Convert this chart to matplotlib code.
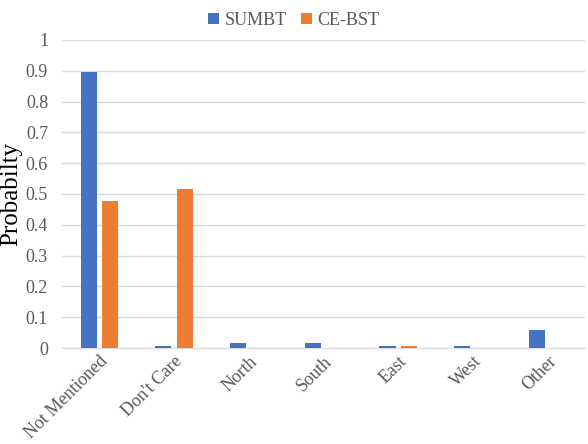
import numpy as np
import matplotlib
matplotlib.use("Agg")
import matplotlib.pyplot as plt
from matplotlib.ticker import FuncFormatter

categories = ["Not Mentioned", "Don't Care", "North", "South", "East", "West", "Other"]
sumbt = [0.895, 0.007, 0.015, 0.015, 0.007, 0.007, 0.058]
ce_bst = [0.476, 0.516, 0.0, 0.0, 0.007, 0.0, 0.0]

plt.rcParams["font.family"] = ["Liberation Serif", "DejaVu Serif"]

fig = plt.figure(figsize=(5.88, 4.44), dpi=100)
ax = fig.add_axes([62 / 588, 1 - 348 / 444, 523 / 588, 308 / 444])

x = np.arange(len(categories))
w = 0.215
ax.bar(x - 0.143, sumbt, w, color="#4472C4", label="SUMBT", zorder=3)
ax.bar(x + 0.143, ce_bst, w, color="#ED7D31", label="CE-BST", zorder=3)

ax.set_xlim(-0.5, len(categories) - 0.5)
ax.set_ylim(0, 1)
ax.set_yticks(np.arange(0, 1.01, 0.1))
ax.yaxis.set_major_formatter(FuncFormatter(lambda v, p: "%g" % round(v, 1)))
ax.grid(axis="y", color="#D9D9D9", linewidth=1, zorder=0)
for s in ["top", "right", "left"]:
    ax.spines[s].set_visible(False)
ax.spines["bottom"].set_color("#D9D9D9")
ax.tick_params(axis="both", length=0, labelsize=13, colors="#595959")
ax.tick_params(axis="y", pad=10)
ax.set_xticks(x)
ax.set_xticklabels(categories, rotation=45, ha="right", rotation_mode="anchor")
ax.set_ylabel("Probabilty", fontsize=18, color="#000000")
ax.yaxis.set_label_coords(-0.077, 0.5)

fig.legend(loc="upper center", bbox_to_anchor=(0.5, 1.01), ncol=2, frameon=False,
           fontsize=13, handlelength=0.6, handleheight=0.6, handletextpad=0.3,
           columnspacing=0.8, labelcolor="#595959")

fig.savefig("out.png", dpi=100)
